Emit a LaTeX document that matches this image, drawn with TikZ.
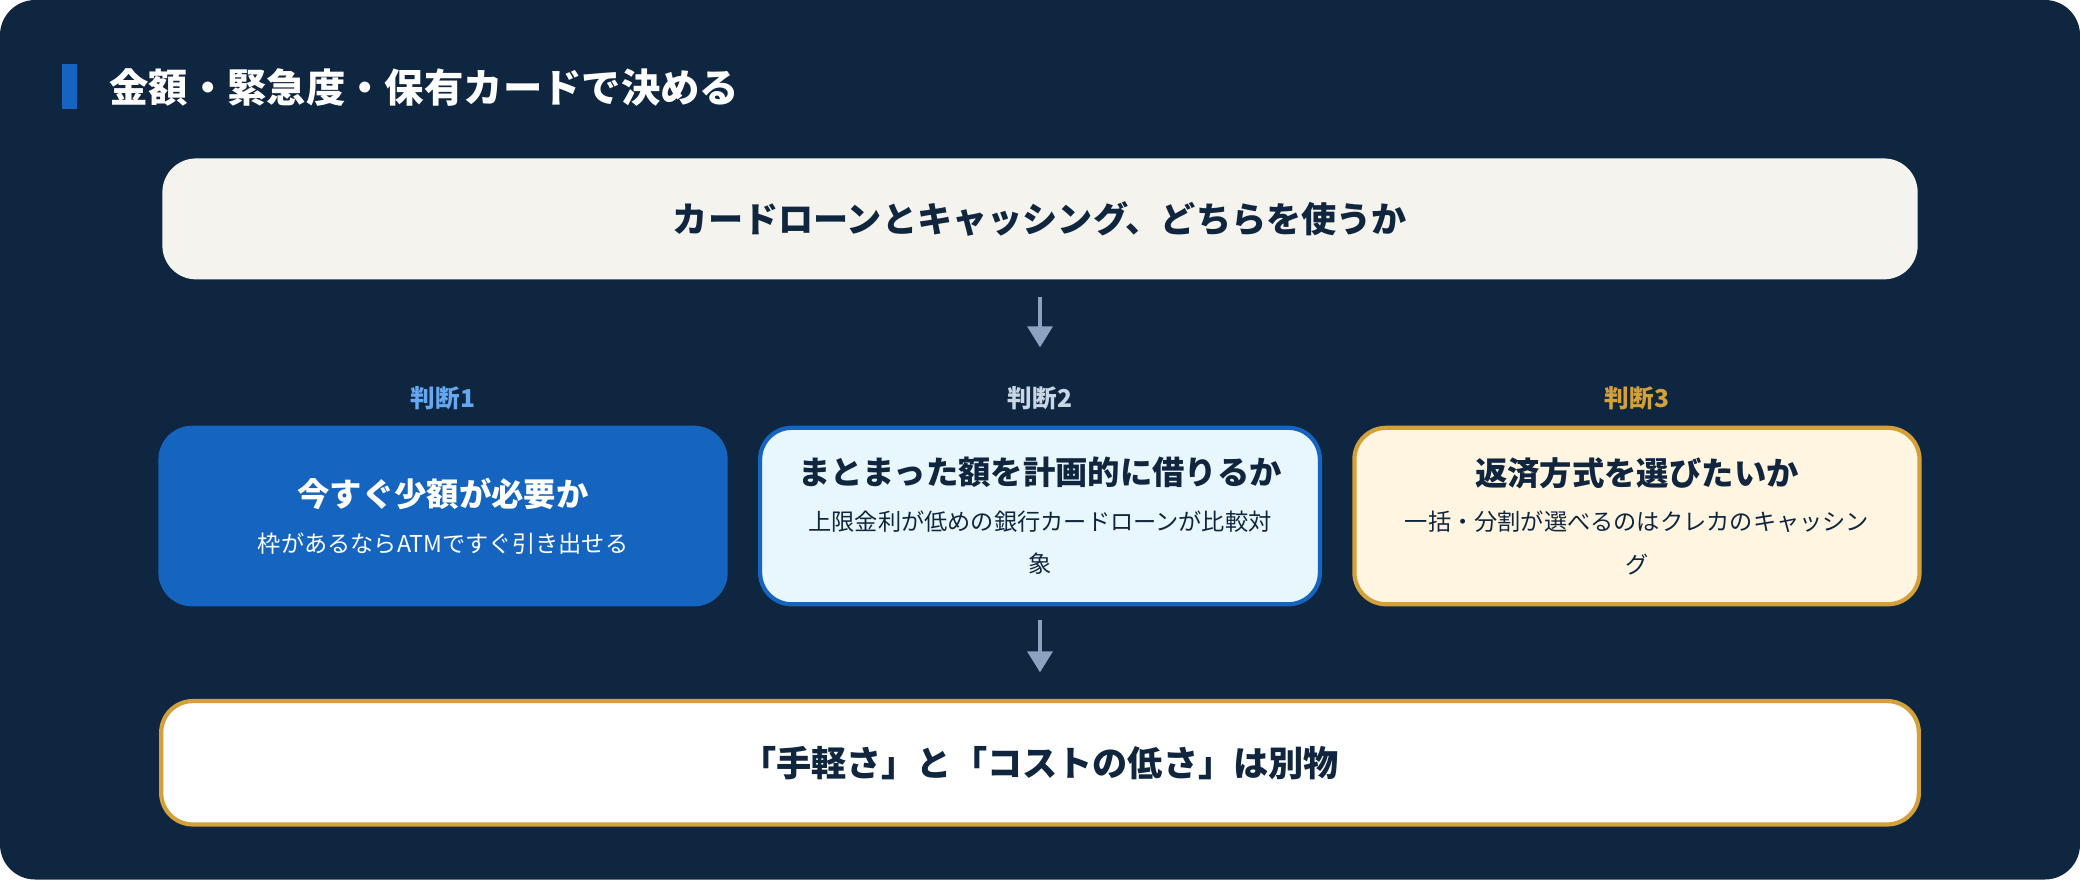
\documentclass[tikz,border=0pt]{standalone}
\usepackage{fontspec}
\setmainfont{Noto Sans CJK JP}
\usetikzlibrary{arrows.meta}
\definecolor{navy}{HTML}{0F2640}
\definecolor{ink}{HTML}{10263F}
\definecolor{brand}{HTML}{1565C0}
\definecolor{gold}{HTML}{D4A03A}
\definecolor{paper}{HTML}{F5F3EE}
\definecolor{icebg}{HTML}{E8F6FD}
\definecolor{creambg}{HTML}{FFF5E1}
\definecolor{arrowc}{HTML}{8BA3C0}
\definecolor{skytag}{HTML}{64A8F0}
\definecolor{greytag}{HTML}{C8D6E6}
\tikzset{
  box/.style={rounded corners=9pt, draw=#1, line width=1.2pt, align=center, inner sep=0pt},
  flow/.style={-{Triangle[length=6pt,width=7pt]}, arrowc, line width=1.3pt},
  tag/.style={font=\bfseries\fontsize{7}{8}\selectfont}
}
\begin{document}
\begin{tikzpicture}[x=0.013265cm, y=-0.013265cm]
  \useasboundingbox (0,0) rectangle (1568,663);
  % background
  \fill[navy, rounded corners=10pt] (0,0) rectangle (1568,663);
  \fill[brand] (47,48) rectangle (58,82);
  \node[anchor=west, white, font=\bfseries\fontsize{11.2}{13}\selectfont] (title) at (73,66) {金額・緊急度・保有カードで決める};

  % question
  \node[box=paper, fill=paper, minimum width=1320*0.013265cm, minimum height=88*0.013265cm,
        text=ink, font=\bfseries\fontsize{10}{12}\selectfont] (top) at (784,165) {カードローンとキャッシング、どちらを使うか};

  % three checks
  \node[tag, text=skytag] (j1) at (334,300) {判断1};
  \node[tag, text=greytag] (j2) at (784,300) {判断2};
  \node[tag, text=gold] (j3) at (1234,300) {判断3};

  \node[box=brand, fill=brand, text=white, minimum width=426*0.013265cm, minimum height=133*0.013265cm] (b1) at (334,389)
    {{\fontsize{9.2}{11}\selectfont\bfseries 今すぐ少額が必要か}\\[1pt]{\fontsize{6.6}{8}\selectfont 枠があるならATMですぐ引き出せる}};
  \node[box=brand, fill=icebg, text=ink, minimum width=422*0.013265cm, minimum height=133*0.013265cm] (b2) at (784,389)
    {{\fontsize{9.2}{11}\selectfont\bfseries まとまった額を計画的に借りるか}\\[1pt]{\fontsize{6.6}{10.5}\selectfont 上限金利が低めの銀行カードローンが比較対}\\{\fontsize{6.6}{8}\selectfont 象}};
  \node[box=gold, fill=creambg, text=ink, minimum width=426*0.013265cm, minimum height=133*0.013265cm] (b3) at (1234,389)
    {{\fontsize{9.2}{11}\selectfont\bfseries 返済方式を選びたいか}\\[1pt]{\fontsize{6.6}{10.5}\selectfont 一括・分割が選べるのはクレカのキャッシン}\\{\fontsize{6.6}{8}\selectfont グ}};

  % conclusion
  \node[box=gold, fill=white, minimum width=1325*0.013265cm, minimum height=93*0.013265cm,
        text=ink, font=\bfseries\fontsize{10}{12}\selectfont] (end) at (784,575) {「手軽さ」と「コストの低さ」は別物};

  \draw[flow, shorten <=13*0.013265cm, shorten >=59*0.013265cm] (top.south) -- (b2.north);
  \draw[flow, shorten <=10*0.013265cm, shorten >=20*0.013265cm] (b2.south) -- (end.north);
\end{tikzpicture}
\end{document}
